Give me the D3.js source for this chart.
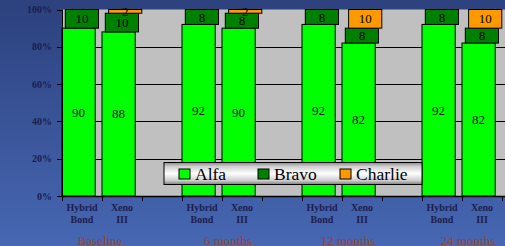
<!DOCTYPE html>
<html>
<head>
<meta charset="utf-8">
<script src="https://cdn.jsdelivr.net/npm/d3@7/dist/d3.min.js"></script>
<style>
  html, body { margin: 0; padding: 0; }
  body { width: 505px; height: 246px; overflow: hidden; }
  svg { display: block; }
</style>
</head>
<body>
<svg id="chart" width="505" height="246"></svg>
<script>
// chart values
var groups = ["Baseline", "6 months", "12 months", "24 months"];
var products = [["Hybrid", "Bond"], ["Xeno", "III"]];
var seriesNames = ["Alfa", "Bravo", "Charlie"];
var alfa    = [90, 88, 92, 90, 92, 82, 92, 82];
var bravo   = [10, 10,  8,  8,  8,  8,  8,  8];
var charlie = [ 0,  2,  0,  2,  0, 10,  0, 10];
var yTicks  = [0, 20, 40, 60, 80, 100];

var colors = ["#00ff00", "#008000", "#ff9900"];
var textNavy = "#1b1d4d";

var svg = d3.select("#chart"),
    width = +svg.attr("width"),
    height = +svg.attr("height");

var margin = {left: 62, top: 9.5, bottom: 196};
var plotRight = 502;

// one slot per bar, with an empty slot between the groups
var slots = [];
groups.forEach(function(g, gi) {
    products.forEach(function(p, pi) { slots.push(gi + "-" + pi); });
    if (gi < groups.length - 1) slots.push("gap-" + gi);
});

var x = d3.scaleBand().domain(slots).range([margin.left, plotRight]).padding(0);
var y = d3.scaleLinear().domain([0, 100]).range([margin.bottom, margin.top]);

var defs = svg.append("defs");
var bg = defs.append("linearGradient").attr("id", "bg")
    .attr("x1", 0).attr("y1", 0).attr("x2", 0).attr("y2", 1);
bg.append("stop").attr("offset", "0%").attr("stop-color", "#2c417d");
bg.append("stop").attr("offset", "100%").attr("stop-color", "#4767b3");

var lg = defs.append("linearGradient").attr("id", "legendFill")
    .attr("x1", 0).attr("y1", 0).attr("x2", 0).attr("y2", 1);
[["0%", "#8a8a8a"], ["18%", "#cfcfcf"], ["50%", "#ffffff"], ["82%", "#cdcdcd"], ["100%", "#7e7e7e"]]
    .forEach(function(s) { lg.append("stop").attr("offset", s[0]).attr("stop-color", s[1]); });

svg.append("rect").attr("width", width).attr("height", height).attr("fill", "url(#bg)");

// plot area
svg.append("rect")
    .attr("x", margin.left).attr("y", y(100))
    .attr("width", width - margin.left).attr("height", y(0) - y(100))
    .attr("fill", "#c0c0c0");

svg.append("g").selectAll("line")
    .data(yTicks.filter(function(t) { return t > 0 && t < 100; }))
    .enter().append("line")
    .attr("x1", margin.left).attr("x2", width)
    .attr("y1", function(d) { return Math.round(y(d)) + 0.5; })
    .attr("y2", function(d) { return Math.round(y(d)) + 0.5; })
    .attr("stroke", "#000").attr("stroke-width", 1);

// stacked bars, each segment nudged right a little
var rows = alfa.map(function(a, i) {
    return {slot: Math.floor(i / 2) + "-" + (i % 2), values: [a, bravo[i], charlie[i]]};
});
var barW = x.bandwidth() * 0.83;
var shift = 3.3;

var segs = [];
rows.forEach(function(r) {
    var base = 0;
    r.values.forEach(function(v, si) {
        if (v > 0) segs.push({slot: r.slot, s: si, y0: base, y1: base + v, v: v});
        base += v;
    });
});

var bars = svg.append("g").selectAll("g").data(segs).enter().append("g");
bars.append("rect")
    .attr("x", function(d) { return x(d.slot) + d.s * shift; })
    .attr("y", function(d) { return y(d.y1); })
    .attr("width", barW)
    .attr("height", function(d) { return y(d.y0) - y(d.y1); })
    .attr("fill", function(d) { return colors[d.s]; })
    .attr("stroke", "#000").attr("stroke-width", 1);
bars.append("text")
    .attr("x", function(d) { return x(d.slot) + d.s * shift + barW / 2; })
    .attr("y", function(d) { return (y(d.y0) + y(d.y1)) / 2; })
    .attr("dy", "0.35em")
    .attr("text-anchor", "middle")
    .attr("font-family", "Liberation Serif, serif")
    .attr("font-size", 13)
    .attr("fill", "#000")
    .text(function(d) { return d.v; });

// axes
svg.append("line")
    .attr("x1", margin.left + 0.5).attr("x2", margin.left + 0.5)
    .attr("y1", y(100)).attr("y2", y(0))
    .attr("stroke", "#000");
svg.append("line")
    .attr("x1", margin.left).attr("x2", width)
    .attr("y1", y(0) + 0.5).attr("y2", y(0) + 0.5)
    .attr("stroke", "#000").attr("stroke-width", 1.5);

var yAxis = svg.append("g").selectAll("g").data(yTicks).enter().append("g");
yAxis.append("line")
    .attr("x1", margin.left - 5).attr("x2", margin.left)
    .attr("y1", function(d) { return Math.round(y(d)) + 0.5; })
    .attr("y2", function(d) { return Math.round(y(d)) + 0.5; })
    .attr("stroke", "#000");
yAxis.append("text")
    .attr("x", margin.left - 10)
    .attr("y", function(d) { return y(d); })
    .attr("dy", "0.35em")
    .attr("text-anchor", "end")
    .attr("font-family", "Liberation Serif, serif")
    .attr("font-size", 10).attr("font-weight", "bold")
    .attr("fill", textNavy)
    .text(function(d) { return d + "%"; });

var tickXs = slots.map(function(s) { return x(s); }).concat([plotRight]);
svg.append("g").selectAll("line").data(tickXs).enter().append("line")
    .attr("x1", function(d) { return Math.round(d) + 0.5; })
    .attr("x2", function(d) { return Math.round(d) + 0.5; })
    .attr("y1", y(0)).attr("y2", y(0) + 5)
    .attr("stroke", "#000");

// category labels
var catData = [];
groups.forEach(function(g, gi) {
    products.forEach(function(p, pi) { catData.push({slot: gi + "-" + pi, lines: p}); });
});
var cat = svg.append("g").selectAll("text").data(catData).enter().append("text")
    .attr("text-anchor", "middle")
    .attr("font-family", "Liberation Serif, serif")
    .attr("font-size", 10).attr("font-weight", "bold")
    .attr("fill", textNavy);
cat.selectAll("tspan").data(function(d) {
        return d.lines.map(function(l) { return {slot: d.slot, text: l}; });
    })
    .enter().append("tspan")
    .attr("x", function(d) { return x(d.slot) + x.bandwidth() / 2; })
    .attr("y", function(d, i) { return 211 + i * 12; })
    .text(function(d) { return d.text; });

// group labels
svg.append("g").selectAll("text").data(groups).enter().append("text")
    .attr("x", function(d, gi) { return x(gi + "-1") + (gi === 0 ? -2 : 6); })
    .attr("y", 245)
    .attr("text-anchor", "middle")
    .attr("font-family", "Liberation Serif, serif")
    .attr("font-size", 13)
    .attr("fill", "#9c4424")
    .text(function(d) { return d; });

// legend
var legend = svg.append("g").attr("transform", "translate(164,162.5)");
legend.append("rect")
    .attr("width", 258).attr("height", 22)
    .attr("fill", "url(#legendFill)")
    .attr("stroke", "#000").attr("stroke-width", 1);
var itemX = [15, 94, 176];
var item = legend.selectAll("g.item").data(seriesNames).enter().append("g")
    .attr("class", "item")
    .attr("transform", function(d, i) { return "translate(" + itemX[i] + ",0)"; });
item.append("rect")
    .attr("x", 0).attr("y", 6.5).attr("width", 11).attr("height", 10)
    .attr("fill", function(d, i) { return colors[i]; })
    .attr("stroke", "#000");
item.append("text")
    .attr("x", 16).attr("y", 17)
    .attr("font-family", "Liberation Serif, serif")
    .attr("font-size", 17.5)
    .attr("fill", "#000")
    .text(function(d) { return d; });
</script>
</body>
</html>
